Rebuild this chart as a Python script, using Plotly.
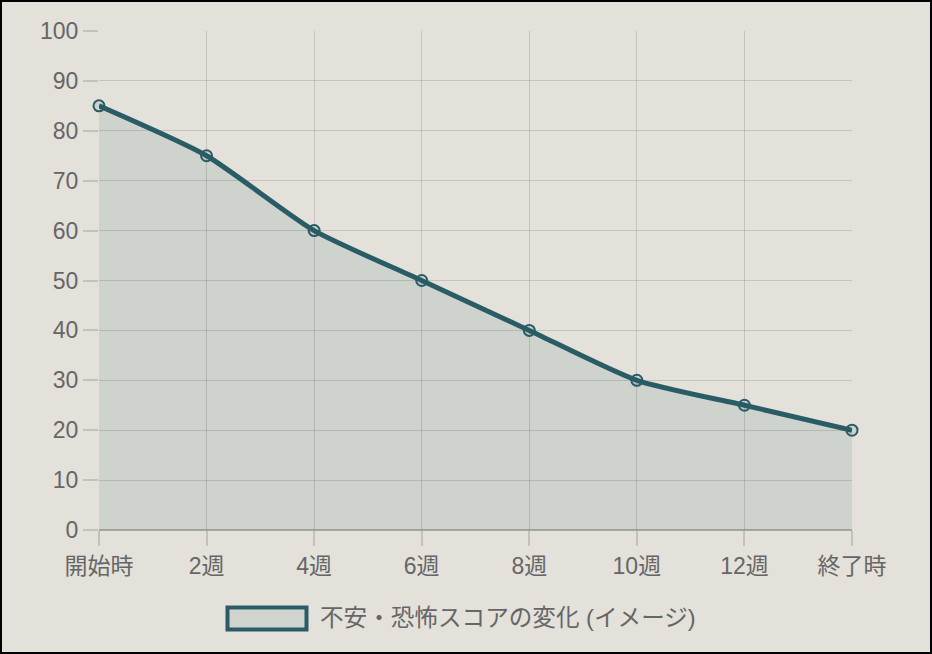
import plotly.graph_objects as go

categories = ["開始時", "2週", "4週", "6週", "8週", "10週", "12週", "終了時"]
scores = [85, 75, 60, 50, 40, 30, 25, 20]
series_name = "不安・恐怖スコアの変化 (イメージ)"

W, H = 932, 654
L, R, T, B = 99, 80, 31, 124
pw, ph = W - L - R, H - T - B

def px_x(x):
    return (x - L) / pw

def px_y(y):
    return (H - B - y) / ph

line_color = "#2a5c65"
fill_color = "rgba(42,92,101,0.1)"
bg = "#e3e1da"
grid = "rgba(0,0,0,0.13)"
tickc = "rgba(0,0,0,0.14)"
font_fam = "Liberation Sans, Arial, Noto Sans CJK JP, sans-serif"
fs = 23

fig = go.Figure()
fig.add_trace(go.Scatter(
    x=list(range(len(categories))), y=scores,
    mode="lines+markers",
    line=dict(color=line_color, width=5, shape="spline", smoothing=0.6),
    marker=dict(size=11, color=fill_color, line=dict(color=line_color, width=2)),
    fill="tozeroy", fillcolor=fill_color,
    cliponaxis=False, showlegend=False, name=series_name,
))

fig.update_layout(
    width=W, height=H,
    margin=dict(l=L, r=R, t=T, b=B),
    paper_bgcolor=bg, plot_bgcolor=bg,
    font=dict(family=font_fam, size=fs, color="#666666"),
    xaxis=dict(
        range=[0, len(categories) - 1],
        tickmode="array", tickvals=list(range(len(categories))), ticktext=categories,
        showgrid=True, gridcolor=grid, gridwidth=1,
        ticks="outside", ticklen=15, tickcolor=tickc, tickwidth=1.5,
        zeroline=False, showline=False,
        tickfont=dict(size=fs, color="#666666"),
    ),
    yaxis=dict(
        range=[0, 100], dtick=10,
        showgrid=True, gridcolor=grid, gridwidth=1,
        ticks="outside", ticklen=15, tickcolor=tickc, tickwidth=1.5,
        zeroline=True, zerolinecolor="rgba(0,0,0,0.25)", zerolinewidth=2,
        showline=False,
        tickfont=dict(size=fs, color="#666666"),
    ),
    shapes=[
        dict(type="rect", xref="paper", yref="paper",
             x0=px_x(1), x1=px_x(W - 1), y0=px_y(H - 1), y1=px_y(1),
             line=dict(color="black", width=2), fillcolor="rgba(0,0,0,0)", layer="above"),
        dict(type="rect", xref="paper", yref="paper",
             x0=px_x(227.5), x1=px_x(306.5), y0=px_y(629.5), y1=px_y(607.5),
             line=dict(color=line_color, width=4), fillcolor="#d0d4ce", layer="above"),
    ],
    annotations=[
        dict(text=series_name, xref="paper", yref="paper",
             x=px_x(318), y=px_y(618), xanchor="left", yanchor="middle",
             showarrow=False, font=dict(size=23.6, color="#666666", family=font_fam)),
    ],
)

fig.write_html("out.html", config={"displayModeBar": False},
               post_script="document.body.style.margin='0';document.body.style.overflow='hidden';")
